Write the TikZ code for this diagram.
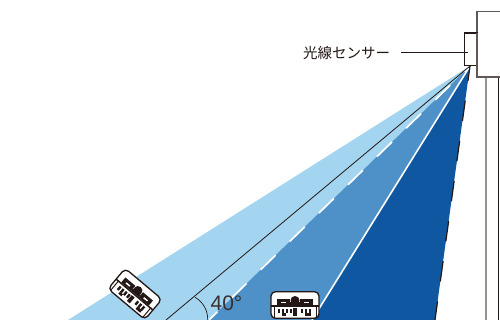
\documentclass[tikz,border=0pt]{standalone}
\usepackage{fontspec}
\setsansfont{Liberation Sans}
\newfontfamily\cjk{Noto Sans CJK JP}
\usepackage{tikz}
\usetikzlibrary{calc,positioning}
\definecolor{lightray}{HTML}{A3D5F0}
\definecolor{midray}{HTML}{4E90C8}
\definecolor{darkray}{HTML}{0F57A0}
\definecolor{wallgrey}{HTML}{5F5855}
\definecolor{polegrey}{HTML}{9A9490}
\definecolor{inkblack}{HTML}{231815}

\tikzset{
	wall/.style={draw=wallgrey, line width=1.1pt, fill=white},
	remote/.pic={
		\draw [fill=white, draw=inkblack, line width=1.3pt, rounded corners=4.5pt] (-24,-13.3) rectangle (24,13.3);
		\fill [inkblack] (-24,0) rectangle (24,1.5);
		\fill [inkblack] (-18,-6.5) rectangle (-5,0);
		\fill [inkblack] (5,-6.5) rectangle (18,0);
		\fill [inkblack] (0,-4.5) circle (4.5pt);
		\fill [inkblack] (-5,-3) rectangle (5,0);
		\fill [white] (-14,-3.5) rectangle (-9,-2);
		\fill [white] (9,-3.5) rectangle (14,-2);
		\draw [inkblack, line width=1pt] (-21,0) -- (-21,13) (21,0) -- (21,13);
		\foreach \k in {-17,-13,-9,-5,6,10,14} {
			\fill [inkblack] (\k,3.5) rectangle ++(2.4,4.5);
		}
		\fill [inkblack] (-1.8,3) rectangle (2,10.5);
		\fill [inkblack] (10,8) rectangle (16,11);
		\fill [inkblack] (-13,8) rectangle (-9,10.5);
	}
}

\begin{document}
\begin{tikzpicture}[x=1pt, y=-1pt]
	\useasboundingbox (0,0) rectangle (500,320);
	\clip (0,0) rectangle (500,320);

	\coordinate (apex) at (470,66);
	\coordinate (lightend) at (68,320);
	\coordinate (blackend) at (166,320);
	\coordinate (midend) at (209,320);
	\coordinate (darkend) at (312,320);
	\coordinate (rightend) at (435,320);

	\fill [lightray] (apex) -- (lightend) -- (midend) -- cycle;
	\fill [midray] (apex) -- (midend) -- (darkend) -- cycle;
	\fill [darkray] (apex) -- (darkend) -- (rightend) -- cycle;

	\draw [white, line width=1.6pt] (apex) -- (darkend);
	\draw [white, line width=1.7pt, dash pattern=on 21pt off 19.6pt, dash phase=13pt] (apex) -- (midend);
	\draw [inkblack, line width=0.8pt] (apex) -- (blackend);
	\draw [inkblack, line width=1.2pt, dash pattern=on 20.5pt off 20pt, dash phase=5.5pt] (apex) -- (rightend);

	\coordinate (arcstart) at (195,297.3);
	\draw [inkblack, line width=0.7pt] (arcstart) arc [start angle=60.5, end angle=-2, radius=25pt];
	\node (angle) [font=\sffamily\fontsize{21pt}{21pt}\selectfont, text=inkblack!90, inner sep=0pt] at (226.5,303) {40°};

	\pic [rotate=-40] at (135,294) {remote};
	\pic at (295,305) {remote};

	% pole and head
	\draw [polegrey, line width=2.3pt] (486.2,77) -- (486.2,320);
	\draw [inkblack, line width=1pt] (498.8,77) -- (498.8,320);
	\draw [wall] (510,11.7) -- (477,11.7) -- (477,77) -- (510,77);
	\node (sensor) [draw=inkblack, line width=1.2pt, fill=white, minimum width=12.7pt, minimum height=32.7pt, inner sep=0pt] at (470.7,49.4) {};
	\draw [wall] (477,33) -- (477,66);

	\node (label) [font=\cjk, text=inkblack, inner sep=0pt, anchor=west] at (303,53) {\fontsize{14.5pt}{14.5pt}\selectfont 光線センサー};
	\coordinate (leaderstart) at (401,52.5);
	\coordinate (leaderend) at (468,52.5);
	\draw [inkblack, line width=0.7pt] (leaderstart) -- (leaderend);
\end{tikzpicture}
\end{document}
